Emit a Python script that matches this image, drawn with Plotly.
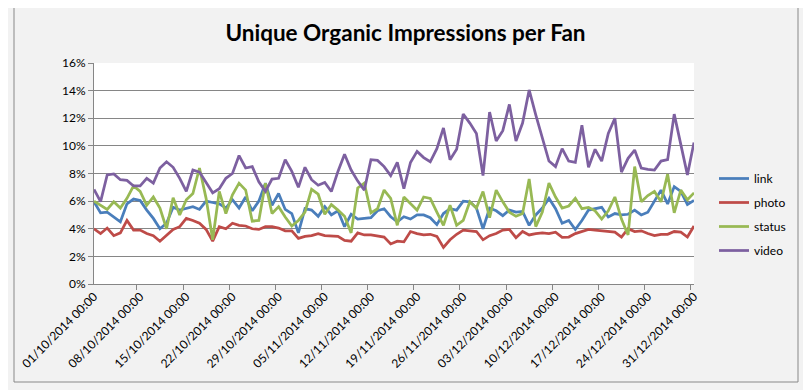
import pandas as pd
import plotly.graph_objects as go

# Categories: one per day, 01/10/2014 .. 31/12/2014
dates = [d.strftime("%d/%m/%Y 00:00") for d in pd.date_range("2014-10-01", "2014-12-31", freq="D")]

series_names = ["link", "photo", "status", "video"]
series_colors = ["#4A7EBB", "#BE4B48", "#98B954", "#7D60A0"]

link = [5.96, 5.15, 5.2, 4.85, 4.5, 5.8, 6.15, 6.05, 5.35, 4.75,
        4.0, 4.4, 5.55, 5.35, 5.5, 5.6, 5.4, 6.0, 5.9, 5.8,
        5.5, 6.1, 5.5, 6.3, 5.3, 6.0, 7.3, 5.7, 6.55, 5.4,
        5.1, 3.7, 5.45, 5.35, 4.9, 5.6, 5.0, 5.3, 4.15, 5.05,
        4.7, 4.75, 4.8, 5.3, 5.45, 4.87, 4.5, 4.87, 4.7, 5.0,
        5.0, 4.8, 4.3, 5.1, 5.45, 5.35, 6.0, 5.95, 5.5, 4.0,
        5.5, 5.3, 4.95, 5.35, 5.2, 5.25, 4.25, 5.0, 5.5, 6.2,
        5.45, 4.4, 4.6, 3.95, 4.6, 5.35, 5.45, 5.55, 4.85, 5.1,
        5.0, 5.05, 5.35, 5.0, 5.2, 5.95, 6.8, 5.8, 7.05, 6.7,
        5.75, 6.05]

photo = [4.0, 3.65, 4.05, 3.5, 3.7, 4.6, 3.9, 3.9, 3.65, 3.5,
         3.1, 3.55, 3.95, 4.15, 4.75, 4.6, 4.4, 3.95, 3.1, 4.15,
         4.0, 4.4, 4.25, 4.2, 4.0, 3.95, 4.15, 4.15, 4.05, 3.85,
         3.85, 3.3, 3.45, 3.5, 3.65, 3.5, 3.45, 3.45, 3.15, 3.1,
         3.7, 3.55, 3.55, 3.5, 3.4, 2.9, 3.1, 3.05, 3.8, 3.65,
         3.55, 3.6, 3.45, 2.65, 3.2, 3.6, 3.9, 3.85, 3.8, 3.2,
         3.5, 3.65, 3.9, 3.95, 3.35, 3.8, 3.55, 3.65, 3.7, 3.65,
         3.75, 3.37, 3.4, 3.65, 3.8, 3.95, 3.9, 3.85, 3.78, 3.75,
         3.4, 4.0, 3.8, 3.85, 3.65, 3.5, 3.6, 3.6, 3.8, 3.75,
         3.4, 4.2]

status = [6.0, 5.7, 5.4, 5.95, 5.5, 6.2, 7.1, 6.7, 5.7, 6.3,
          5.5, 4.0, 6.25, 5.0, 6.1, 6.55, 8.4, 6.2, 3.2, 6.7,
          5.1, 6.45, 7.3, 6.8, 4.55, 4.6, 7.3, 5.1, 5.6, 4.85,
          4.2, 4.6, 5.2, 6.85, 6.5, 5.05, 5.75, 5.35, 4.9, 3.7,
          6.95, 7.3, 5.15, 5.45, 6.8, 6.2, 4.25, 6.3, 5.85, 5.35,
          6.3, 6.2, 5.2, 4.25, 5.7, 4.25, 4.6, 5.95, 5.5, 6.7,
          4.8, 6.8, 5.95, 5.2, 4.9, 5.1, 7.6, 4.15, 5.2, 7.3,
          6.3, 5.5, 5.65, 6.2, 5.45, 5.55, 5.3, 4.7, 5.3, 6.3,
          4.7, 3.55, 8.5, 5.95, 6.4, 6.7, 5.95, 7.95, 5.15, 6.8,
          6.1, 6.6]

video = [6.85, 5.96, 7.9, 7.97, 7.55, 7.5, 7.1, 7.1, 7.65, 7.3,
         8.4, 8.85, 8.45, 7.65, 6.7, 8.25, 8.1, 7.3, 6.6, 6.9,
         7.65, 8.0, 9.3, 8.4, 8.5, 7.4, 6.7, 7.6, 7.65, 9.0,
         8.15, 7.0, 8.45, 7.55, 7.15, 7.35, 6.7, 8.15, 9.4, 8.25,
         7.45, 6.8, 9.0, 8.95, 8.5, 7.85, 8.8, 6.9, 8.8, 9.6,
         9.15, 8.85, 9.8, 11.3, 9.0, 9.75, 12.3, 11.65, 10.9, 7.85,
         12.45, 10.35, 11.1, 13.0, 10.35, 11.65, 14.05, 12.25, 10.5, 8.9,
         8.5, 9.8, 8.9, 8.8, 11.5, 8.45, 9.75, 8.9, 10.9, 12.0,
         8.1, 9.1, 9.7, 8.4, 8.3, 8.25, 8.9, 9.0, 12.3, 10.2,
         7.9, 10.25]

series_values = [link, photo, status, video]

FONT = "Lato"
GRID = "#868686"

fig = go.Figure()
for name, color, vals in zip(series_names, series_colors, series_values):
    fig.add_trace(go.Scatter(
        x=dates, y=vals, name=name, mode="lines", legendgroup=name,
        line=dict(color=color, width=2.75),
    ))

# The page body has an 8px default margin, so the figure is drawn 8px
# in from the window's top-left corner.
OFF = 8
W, H = 811 - OFF, 390 - OFF
L, T = 94 - OFF, 63 - OFF
pw, ph = 600, 221
R, B = W - L - pw, H - T - ph


def px_x(p):
    return (p - OFF - L) / pw


def px_y(p):
    return (H - B - (p - OFF)) / ph


fig.update_layout(
    width=W, height=H,
    margin=dict(l=L, r=R, t=T, b=B, pad=0, autoexpand=False),
    paper_bgcolor="#F2F2F2",
    plot_bgcolor="#FFFFFF",
    font=dict(family=FONT, size=12, color="#000000"),
    title=dict(text="<b>Unique Organic Impressions per Fan</b>",
               font=dict(family=FONT, size=22.5, color="#000000"),
               x=0.5 * 811 / W - OFF / W, xref="container", xanchor="center",
               y=1 - (33 - OFF) / H, yref="container", yanchor="middle"),
    showlegend=True,
    legend=dict(x=px_x(714), xanchor="left", y=px_y(164), yanchor="top",
                bgcolor="rgba(0,0,0,0)", font=dict(family=FONT, size=12),
                traceorder="grouped", tracegroupgap=5, itemwidth=30),
    xaxis=dict(type="category", tickmode="linear", tick0=0, dtick=7,
               tickson="boundaries", ticks="outside", ticklen=5, tickcolor=GRID,
               tickangle=-45, showgrid=False, showline=True, linecolor=GRID,
               linewidth=1, automargin=False,
               tickfont=dict(family=FONT, size=12, color="#000000")),
    yaxis=dict(range=[0, 16], tickmode="linear", tick0=0, dtick=2, ticksuffix="%",
               showgrid=True, gridcolor=GRID, gridwidth=1, zeroline=False,
               showline=True, linecolor=GRID, linewidth=1, automargin=False,
               ticks="outside", ticklen=5, tickcolor=GRID,
               tickfont=dict(family=FONT, size=12, color="#000000")),
    shapes=[dict(type="rect", xref="paper", yref="paper",
                 x0=px_x(14), x1=px_x(798), y0=px_y(382), y1=px_y(7),
                 line=dict(color="#888888", width=1), fillcolor="rgba(0,0,0,0)",
                 layer="below")],
)

fig.write_html("out.html")
